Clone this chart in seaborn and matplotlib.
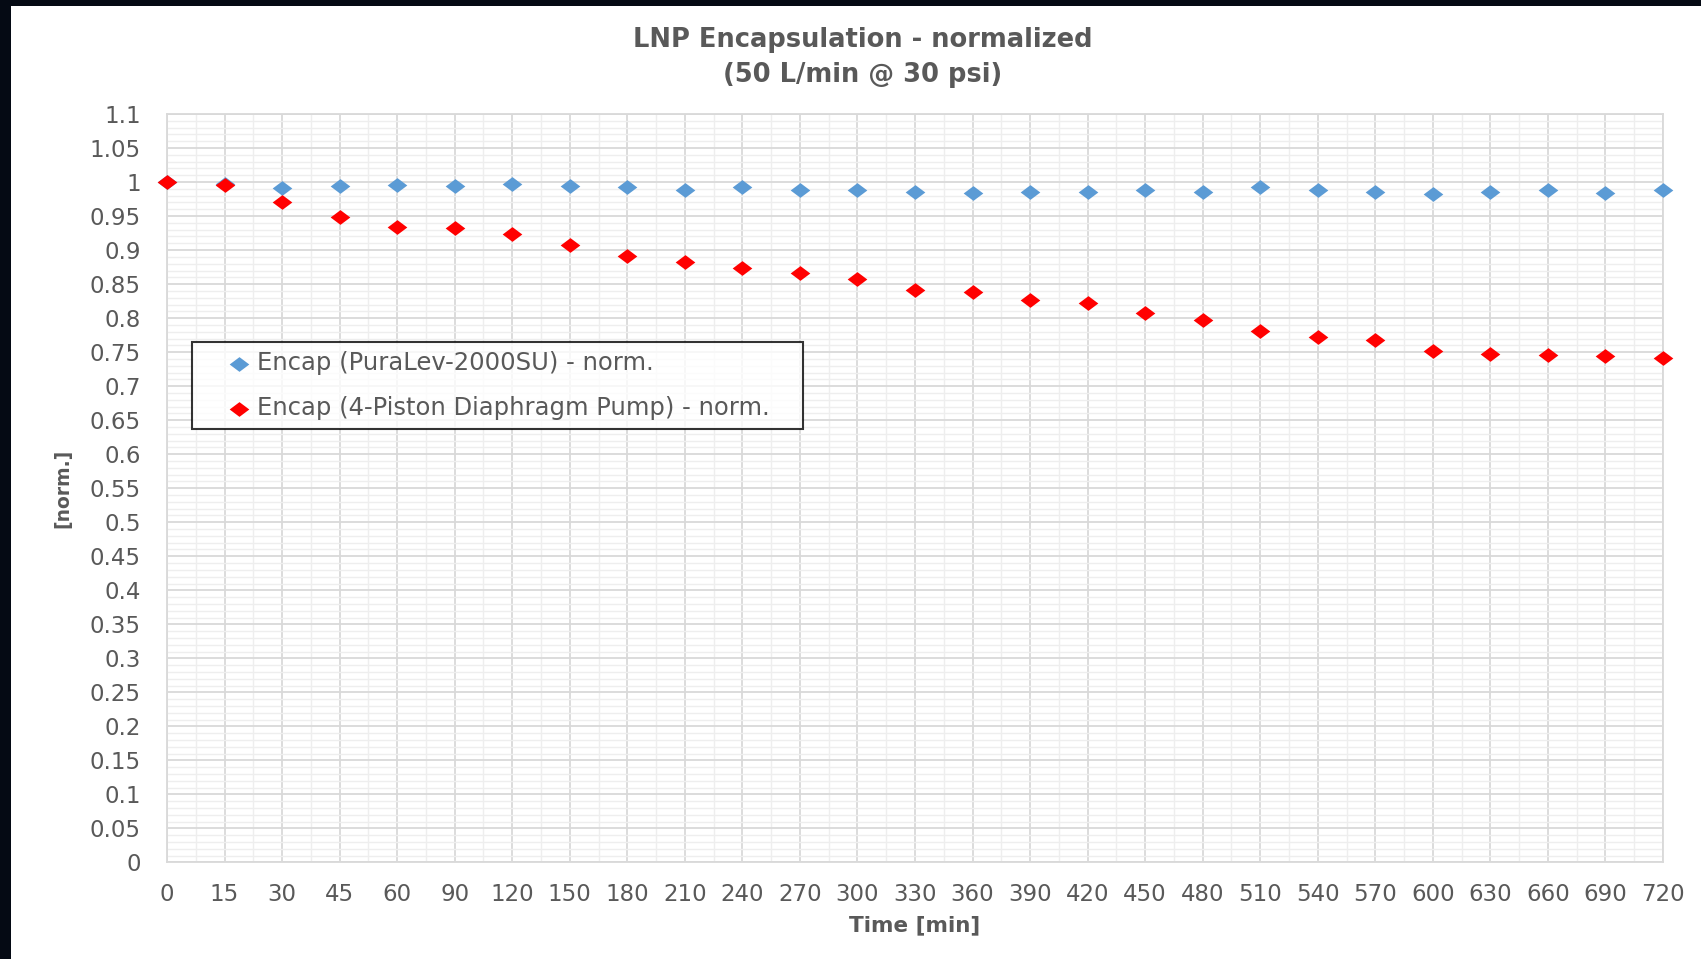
import numpy as np
import pandas as pd
import matplotlib
matplotlib.use("Agg")
import matplotlib.pyplot as plt
from matplotlib.path import Path
from matplotlib.patches import Rectangle
import seaborn as sns

# ---- data ----
time_labels = ["0", "15", "30", "45", "60", "90", "120", "150", "180", "210",
               "240", "270", "300", "330", "360", "390", "420", "450", "480",
               "510", "540", "570", "600", "630", "660", "690", "720"]
puralev = [1.000, 0.997, 0.991, 0.994, 0.995, 0.994, 0.997, 0.994, 0.992, 0.988,
           0.993, 0.989, 0.989, 0.985, 0.984, 0.985, 0.985, 0.988, 0.985,
           0.992, 0.988, 0.985, 0.982, 0.985, 0.988, 0.984, 0.988]
diaphragm = [1.000, 0.996, 0.970, 0.949, 0.934, 0.932, 0.923, 0.907, 0.892, 0.882,
             0.873, 0.867, 0.857, 0.842, 0.838, 0.827, 0.822, 0.808, 0.797,
             0.781, 0.773, 0.768, 0.751, 0.748, 0.746, 0.745, 0.741]
series_names = ["Encap (PuraLev-2000SU) - norm.",
                "Encap (4-Piston Diaphragm Pump) - norm."]
series_colors = ["#5B9BD5", "#FF0000"]
y_ticks = np.round(np.arange(0, 1.1001, 0.05), 2)

TEXT = "#595959"
GRID_MAJOR = "#D9D9D9"
GRID_MINOR = "#EEEEEE"

sns.set_theme(style="white")
plt.rcParams["font.family"] = ["DejaVu Sans"]

fig = plt.figure(figsize=(17.01, 9.59), dpi=100)
fig.patch.set_facecolor("white")
ax = fig.add_axes([0.09818, 0.10063, 0.87948, 0.78049])

# wide diamond marker
diamond = Path([(-1, 0), (0, 0.75), (1, 0), (0, -0.75), (-1, 0)],
               [Path.MOVETO, Path.LINETO, Path.LINETO, Path.LINETO, Path.CLOSEPOLY])

df = pd.DataFrame({"time": time_labels, "a": puralev, "b": diaphragm})
for col, name, color in zip(["a", "b"], series_names, series_colors):
    sns.scatterplot(data=df, x="time", y=col, ax=ax, color=color, marker=diamond,
                    s=200, linewidth=0, label=name, clip_on=False, zorder=3)

n = len(time_labels)
ax.set_xlim(0, n - 1)
ax.set_ylim(0, 1.1)

ax.set_xticks(np.arange(n))
ax.set_xticklabels(time_labels)
ax.set_xticks(np.arange(0.5, n - 1, 1), minor=True)
ax.set_yticks(y_ticks)
ax.set_yticklabels([f"{v:g}" for v in y_ticks])
ax.set_yticks(np.round(np.arange(0, 1.1001, 0.01), 2), minor=True)

ax.set_axisbelow(True)
ax.grid(which="minor", color=GRID_MINOR, linewidth=1.0)
ax.grid(which="major", color=GRID_MAJOR, linewidth=1.3)
for sp in ax.spines.values():
    sp.set_color(GRID_MAJOR)
    sp.set_linewidth(1.3)

ax.tick_params(axis="both", which="both", length=0, labelsize=16.5, labelcolor=TEXT)
ax.tick_params(axis="y", pad=19)
ax.tick_params(axis="x", pad=15)

ax.set_xlabel("Time [min]", fontsize=15.5, fontweight="bold", color=TEXT, va="center")
ax.xaxis.set_label_coords(0.5, -0.0835)
ax.set_ylabel("[norm.]", fontsize=13.5, fontweight="bold", color=TEXT, va="center")
ax.yaxis.set_label_coords(-0.0695, 0.5)

fig.text(0.507, 0.9405, "LNP Encapsulation - normalized\n(50 L/min @ 30 psi)",
         ha="center", va="center", fontsize=18.5, fontweight="bold", color=TEXT,
         linespacing=1.45)

# legend box
x0 = (192 - 167) / 1496
y1 = (862.5 - 342) / 748.5
w = (803 - 192) / 1496
leg = ax.legend(loc="upper left", bbox_to_anchor=(x0, y1 - 0.2, w, 0.2), mode="expand",
                frameon=True, fancybox=False, fontsize=17.5, labelcolor=TEXT,
                handlelength=3.1, handletextpad=-0.8, borderpad=0.38,
                labelspacing=0.85, borderaxespad=0, scatterpoints=1)
leg.get_frame().set_edgecolor("black")
leg.get_frame().set_linewidth(1.5)
leg.set_zorder(5)

# dark frame strips along the left and top edges
fig.patches.append(Rectangle((0, 0), 11 / 1701, 1, transform=fig.transFigure,
                             facecolor="#050A14", edgecolor="none", zorder=10))
fig.patches.append(Rectangle((0, 1 - 6 / 959), 1, 6 / 959, transform=fig.transFigure,
                             facecolor="#050A14", edgecolor="none", zorder=10))

fig.savefig("out.png", dpi=100, facecolor="white")
